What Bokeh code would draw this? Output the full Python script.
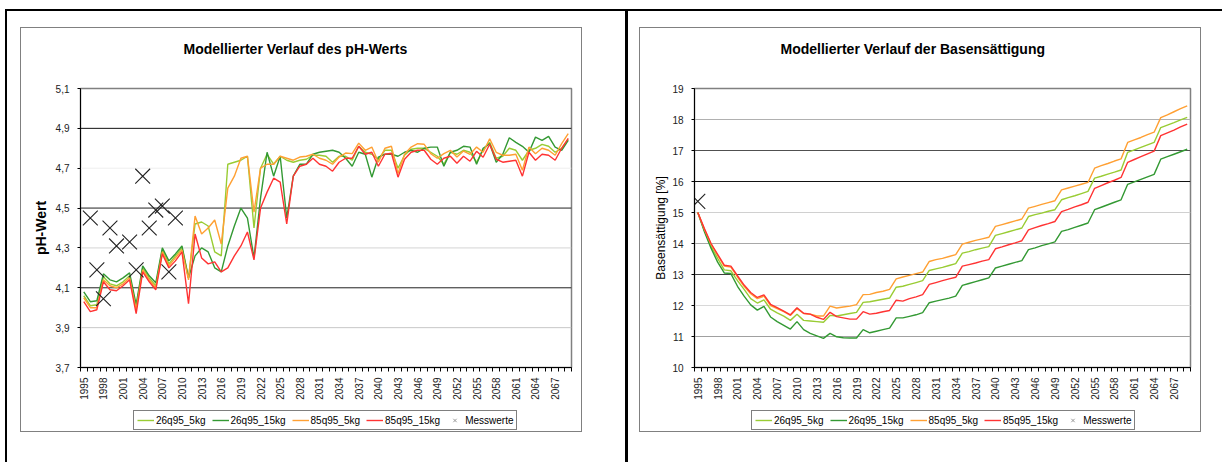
import math
from bokeh.plotting import figure
from bokeh.layouts import row, column
from bokeh.models import (Range1d, FixedTicker, CustomJSTickFormatter, Span,
                          Legend, LegendItem)
from bokeh.embed import file_html
from bokeh.resources import INLINE

FONT = "Liberation Sans"
MAIN_H = 404
KEY_H = 58

# ---------------------------------------------------------------- data
years = list(range(1995, 2070))
xtick_years = list(range(1995, 2068, 3))

series_names = ["26q95_5kg", "26q95_15kg", "85q95_5kg", "85q95_15kg"]
series_colors = ["#99cc33", "#339933", "#ffa033", "#ff3333"]

ph_26q95_5kg = [4.06, 4.01, 4.015, 4.155, 4.12, 4.11, 4.13, 4.16, 4.00, 4.20,
                4.15, 4.11, 4.29, 4.22, 4.26, 4.30, 4.15, 4.42, 4.43, 4.41,
                4.28, 4.26, 4.72, 4.73, 4.74, 4.76, 4.40, 4.70, 4.77, 4.72,
                4.76, 4.74, 4.73, 4.74, 4.745, 4.765, 4.765, 4.76, 4.73, 4.76,
                4.76, 4.74, 4.81, 4.78, 4.77, 4.745, 4.79, 4.79, 4.70, 4.765,
                4.795, 4.80, 4.80, 4.78, 4.76, 4.72, 4.78, 4.77, 4.79, 4.78,
                4.73, 4.79, 4.83, 4.75, 4.76, 4.80, 4.79, 4.74, 4.79, 4.80,
                4.82, 4.81, 4.78, 4.80, 4.845]
ph_26q95_15kg = [4.08, 4.03, 4.035, 4.17, 4.14, 4.13, 4.15, 4.175, 4.015, 4.21,
                 4.16, 4.125, 4.30, 4.235, 4.27, 4.31, 4.15, 4.26, 4.30, 4.28,
                 4.20, 4.18, 4.31, 4.41, 4.50, 4.45, 4.25, 4.55, 4.78, 4.66,
                 4.76, 4.45, 4.66, 4.72, 4.72, 4.77, 4.78, 4.785, 4.79, 4.78,
                 4.75, 4.71, 4.78, 4.77, 4.655, 4.756, 4.77, 4.77, 4.76, 4.78,
                 4.79, 4.78, 4.80, 4.806, 4.806, 4.71, 4.78, 4.79, 4.81, 4.806,
                 4.72, 4.80, 4.823, 4.73, 4.77, 4.853, 4.83, 4.81, 4.78, 4.856,
                 4.84, 4.86, 4.806, 4.79, 4.84]
ph_85q95_5kg = [4.05, 4.00, 4.00, 4.14, 4.11, 4.10, 4.12, 4.15, 3.99, 4.19,
                4.14, 4.10, 4.28, 4.21, 4.25, 4.29, 4.14, 4.46, 4.37, 4.40,
                4.44, 4.32, 4.60, 4.66, 4.75, 4.76, 4.48, 4.70, 4.72, 4.72,
                4.76, 4.75, 4.74, 4.756, 4.76, 4.77, 4.75, 4.74, 4.72, 4.756,
                4.776, 4.773, 4.826, 4.79, 4.806, 4.73, 4.80, 4.81, 4.673, 4.77,
                4.806, 4.823, 4.82, 4.773, 4.75, 4.773, 4.79, 4.756, 4.786, 4.77,
                4.806, 4.78, 4.848, 4.78, 4.765, 4.765, 4.77, 4.69, 4.806, 4.773,
                4.80, 4.79, 4.765, 4.823, 4.873]
ph_85q95_15kg = [4.03, 3.98, 3.99, 4.13, 4.09, 4.085, 4.11, 4.14, 3.97, 4.18,
                 4.13, 4.09, 4.27, 4.20, 4.235, 4.28, 4.02, 4.37, 4.25, 4.22,
                 4.23, 4.18, 4.20, 4.26, 4.31, 4.38, 4.24, 4.50, 4.58, 4.65,
                 4.63, 4.42, 4.66, 4.71, 4.72, 4.75, 4.72, 4.71, 4.685, 4.73,
                 4.75, 4.75, 4.81, 4.77, 4.78, 4.71, 4.77, 4.775, 4.655, 4.745,
                 4.78, 4.79, 4.79, 4.745, 4.72, 4.75, 4.76, 4.725, 4.76, 4.735,
                 4.785, 4.755, 4.82, 4.745, 4.73, 4.735, 4.74, 4.66, 4.78, 4.74,
                 4.77, 4.765, 4.74, 4.80, 4.85]
mess_ph_years = [1996, 1997, 1998, 1999, 2000, 2002, 2003, 2004, 2005, 2006, 2007, 2008, 2009]
mess_ph = [4.45, 4.19, 4.045, 4.40, 4.31, 4.33, 4.19, 4.66, 4.40, 4.49, 4.51, 4.18, 4.45]

bs_26q95_5kg = [15.00, 14.42, 13.92, 13.52, 13.15, 13.12, 12.80, 12.52, 12.22, 12.08,
                12.18, 11.88, 11.76, 11.66, 11.52, 11.72, 11.52, 11.50, 11.48, 11.46,
                11.68, 11.66, 11.70, 11.74, 11.78, 12.10, 12.12, 12.16, 12.20, 12.24,
                12.59, 12.62, 12.68, 12.74, 12.80, 13.13, 13.18, 13.23, 13.29, 13.35,
                13.69, 13.74, 13.80, 13.85, 13.90, 14.26, 14.32, 14.38, 14.44, 14.50,
                14.87, 14.93, 14.98, 15.04, 15.09, 15.41, 15.48, 15.54, 15.61, 15.68,
                16.11, 16.17, 16.24, 16.30, 16.37, 16.94, 17.02, 17.10, 17.18, 17.26,
                17.74, 17.82, 17.90, 17.99, 18.07]
bs_26q95_15kg = [15.00, 14.38, 13.85, 13.40, 13.05, 13.03, 12.62, 12.30, 12.02, 11.85,
                 11.97, 11.63, 11.48, 11.36, 11.24, 11.48, 11.22, 11.10, 11.02, 10.94,
                 11.10, 10.99, 10.96, 10.95, 10.95, 11.22, 11.12, 11.17, 11.22, 11.27,
                 11.60, 11.60, 11.65, 11.70, 11.77, 12.09, 12.14, 12.19, 12.24, 12.30,
                 12.65, 12.71, 12.77, 12.83, 12.89, 13.21, 13.27, 13.33, 13.39, 13.45,
                 13.80, 13.86, 13.93, 13.99, 14.05, 14.39, 14.45, 14.52, 14.59, 14.66,
                 15.09, 15.17, 15.25, 15.33, 15.41, 15.91, 15.99, 16.07, 16.15, 16.23,
                 16.72, 16.80, 16.88, 16.96, 17.04]
bs_85q95_5kg = [15.00, 14.45, 13.98, 13.62, 13.27, 13.24, 12.92, 12.62, 12.38, 12.22,
                12.30, 12.00, 11.90, 11.80, 11.68, 11.90, 11.74, 11.72, 11.66, 11.66,
                11.98, 11.92, 11.95, 11.98, 12.03, 12.35, 12.36, 12.42, 12.46, 12.52,
                12.86, 12.92, 12.97, 13.03, 13.08, 13.42, 13.48, 13.52, 13.58, 13.64,
                13.98, 14.04, 14.10, 14.15, 14.20, 14.55, 14.61, 14.67, 14.73, 14.79,
                15.14, 15.20, 15.26, 15.32, 15.38, 15.73, 15.79, 15.85, 15.91, 15.97,
                16.43, 16.51, 16.58, 16.66, 16.73, 17.26, 17.34, 17.42, 17.51, 17.59,
                18.06, 18.15, 18.25, 18.35, 18.44]
bs_85q95_15kg = [15.00, 14.48, 14.00, 13.65, 13.30, 13.27, 12.96, 12.66, 12.42, 12.26,
                 12.34, 12.04, 11.93, 11.82, 11.70, 11.93, 11.75, 11.72, 11.62, 11.55,
                 11.78, 11.64, 11.60, 11.56, 11.56, 11.80, 11.72, 11.75, 11.80, 11.84,
                 12.17, 12.14, 12.22, 12.28, 12.35, 12.68, 12.74, 12.80, 12.86, 12.91,
                 13.27, 13.32, 13.37, 13.43, 13.48, 13.83, 13.89, 13.96, 14.02, 14.09,
                 14.44, 14.51, 14.58, 14.64, 14.71, 15.03, 15.10, 15.18, 15.25, 15.33,
                 15.78, 15.87, 15.96, 16.04, 16.13, 16.62, 16.71, 16.80, 16.89, 16.98,
                 17.48, 17.57, 17.66, 17.76, 17.85]
mess_bs_years = [1995]
mess_bs = [15.36]

ph_ticks = [3.7, 3.9, 4.1, 4.3, 4.5, 4.7, 4.9, 5.1]
ph_grid_colors = ["#000000", "#c8c8c8", "#222222", "#d4d4d4", "#222222", "#eeeeee", "#111111", None]
bs_ticks = [10, 11, 12, 13, 14, 15, 16, 17, 18, 19]
bs_grid_colors = ["#000000", "#a0a0a0", "#d8d8d8", "#404040", "#a8a8a8", "#d0d0d0",
                  "#111111", "#505050", "#b0b0b0", None]


def chart(width, border_left, border_right, y_range, y_ticks, grid_colors, fmt_code,
          series, mess_x, mess_y, title, title_offset, ylabel, ylabel_size, ylabel_bold,
          ylabel_standoff):
    p = figure(width=width, height=MAIN_H, output_backend="svg", toolbar_location=None,
               x_range=Range1d(1994.5, 2069.5), y_range=Range1d(*y_range),
               min_border_left=border_left, min_border_right=border_right,
               min_border_top=88, min_border_bottom=MAIN_H - 367)
    p.xgrid.visible = False
    p.ygrid.visible = False
    p.outline_line_color = "#808080"
    p.outline_line_width = 1.5
    p.background_fill_color = "white"
    p.border_fill_color = None

    p.title.text = title
    p.title.align = "left"
    p.title.offset = title_offset
    p.title.standoff = 63
    p.title.text_font = FONT
    p.title.text_font_size = "14px"
    p.title.text_font_style = "bold"
    p.title.text_color = "#000000"

    for v, c in zip(y_ticks, grid_colors):
        if c is not None:
            p.add_layout(Span(location=v, dimension="width", line_color=c,
                              line_width=1, level="underlay"))

    xa = p.xaxis[0]
    xa.ticker = FixedTicker(ticks=xtick_years,
                            minor_ticks=[y - 0.5 for y in years] + [years[-1] + 0.5])
    xa.formatter = CustomJSTickFormatter(code="return tick.toFixed(0)")
    xa.major_tick_out = 0
    xa.major_tick_in = 0
    xa.minor_tick_out = 4
    xa.minor_tick_in = 0
    xa.major_label_orientation = math.pi / 2
    xa.major_label_standoff = 6

    ya = p.yaxis[0]
    ya.ticker = FixedTicker(ticks=y_ticks)
    ya.formatter = CustomJSTickFormatter(code=fmt_code)
    ya.major_tick_out = 3
    ya.major_tick_in = 0
    ya.minor_tick_out = 0
    ya.minor_tick_in = 0
    ya.major_label_standoff = 8
    ya.axis_label = ylabel
    ya.axis_label_standoff = ylabel_standoff
    ya.axis_label_text_font = FONT
    ya.axis_label_text_font_size = ylabel_size
    ya.axis_label_text_font_style = "bold" if ylabel_bold else "normal"
    ya.axis_label_text_color = "#000000"

    for ax in (xa, ya):
        ax.axis_line_color = "#000000"
        ax.major_tick_line_color = "#000000"
        ax.minor_tick_line_color = "#000000"
        ax.major_label_text_font = FONT
        ax.major_label_text_font_size = "10px"
        ax.major_label_text_color = "#222222"

    for color, vals in zip(series_colors, series):
        p.line(years, vals, line_color=color, line_width=1.4)
    p.scatter(mess_x, mess_y, marker="x", size=21, line_color="#222222", line_width=1.1)
    return p


def key_strip(width, box_left):
    """Horizontal legend below a chart, drawn inside its own small frame.
    The key glyphs sit outside the strip's visible range, so only the legend shows."""
    q = figure(width=width, height=KEY_H, output_backend="svg", toolbar_location=None,
               x_axis_location=None, y_axis_location=None, min_border=0,
               x_range=Range1d(0, 1), y_range=Range1d(0, 1))
    q.xgrid.visible = False
    q.ygrid.visible = False
    q.outline_line_color = None
    q.background_fill_color = None
    q.border_fill_color = None
    items = []
    for name, color in zip(series_names, series_colors):
        r = q.line(x=[-2, -1], y=[-2, -2], line_color=color, line_width=1.4)
        items.append(LegendItem(label=name, renderers=[r]))
    m = q.scatter(x=[-2], y=[-2], marker="x", size=7, line_color="#999999", line_width=1)
    items.append(LegendItem(label="Messwerte", renderers=[m]))
    legend = Legend(items=items, orientation="horizontal", location=(box_left, 32),
                    border_line_color="#000000", border_line_width=1,
                    background_fill_color="white", background_fill_alpha=1,
                    padding=3, margin=0, spacing=6, glyph_width=17, glyph_height=12,
                    label_height=12, label_standoff=2,
                    label_text_font=FONT, label_text_font_size="10px",
                    label_text_color="#000000")
    q.add_layout(legend, "center")
    return q


left = chart(627, 80, 56, (3.7, 5.1), ph_ticks, ph_grid_colors,
             "return tick.toFixed(1).replace('.', ',')",
             [ph_26q95_5kg, ph_26q95_15kg, ph_85q95_5kg, ph_85q95_15kg],
             mess_ph_years, mess_ph,
             "Modellierter Verlauf des pH-Werts", 103, "pH-Wert", "14px", True, 4)
right = chart(595, 67, 32, (10, 19), bs_ticks, bs_grid_colors,
              "return tick.toFixed(0)",
              [bs_26q95_5kg, bs_26q95_15kg, bs_85q95_5kg, bs_85q95_15kg],
              mess_bs_years, mess_bs,
              "Modellierter Verlauf der Basensättigung", 86, "Basensättigung [%]",
              "12px", False, 1)


# page frame (black rules) and the grey chart-area boxes, painted behind the
# transparent canvas borders of the figures
def rect(x, y, w, h, color):
    return f"linear-gradient({color}, {color}) {x}px {y}px / {w}px {h}px no-repeat"


def hollow(x0, y0, x1, y1, color):
    return [rect(x0, y0, x1 - x0, 1, color), rect(x0, y1, x1 - x0 + 1, 1, color),
            rect(x0, y0, 1, y1 - y0, color), rect(x1, y0, 1, y1 - y0, color)]


layers = [rect(6, 9, 1216, 2, "#000"), rect(5, 9, 2, 453, "#000"),
          rect(625, 9, 3, 453, "#000")]
layers += hollow(20, 27, 581, 431, "#808080")
layers += hollow(639, 27, 1200, 431, "#808080")

# legend boxes are positioned relative to the chart frames (left edges 80 and 67)
layout = row(column(left, key_strip(627, 53), spacing=0),
             column(right, key_strip(595, 57), spacing=0),
             spacing=0,
             styles={"background": ", ".join(layers) + ", #ffffff"})
open("out.html", "w").write(file_html(layout, INLINE))
